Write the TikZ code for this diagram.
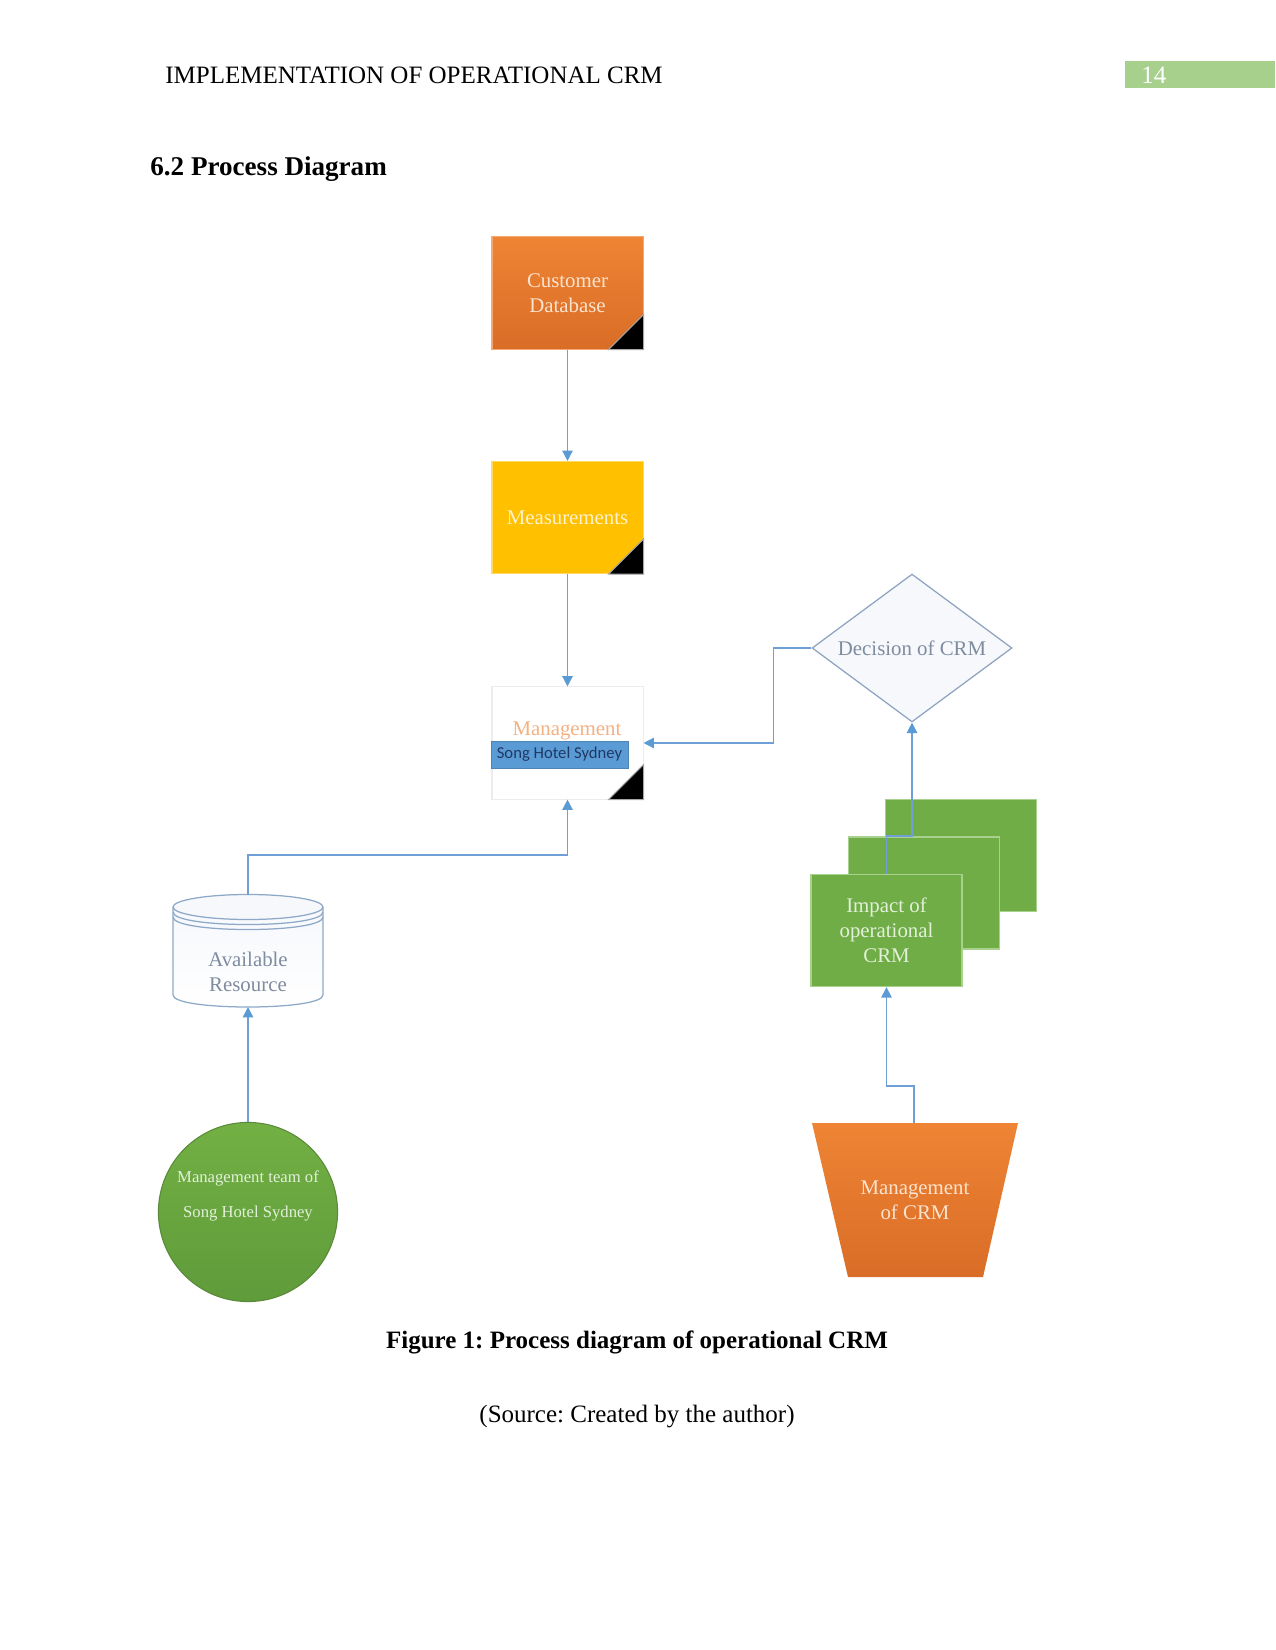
\documentclass[tikz,border=0pt]{standalone}
\usepackage{fontspec}
\setmainfont{Liberation Serif}
\newfontfamily\calfont{Carlito}
\usetikzlibrary{arrows.meta,shapes.geometric}
\frenchspacing
\definecolor{connc}{HTML}{6E9FD6}
\definecolor{arrc}{HTML}{5B9BD5}
\definecolor{orA}{HTML}{EE8434}
\definecolor{orB}{HTML}{D96D27}
\definecolor{orTxt}{HTML}{FBE3D0}
\definecolor{yel}{HTML}{FFC000}
\definecolor{yelTxt}{HTML}{FFF2CC}
\definecolor{mgTxt}{HTML}{F4B183}
\definecolor{banner}{HTML}{5B9BD5}
\definecolor{bannerTxt}{HTML}{1F3864}
\definecolor{grn}{HTML}{70AD47}
\definecolor{grnC}{HTML}{72B044}
\definecolor{grnD}{HTML}{5F9B3A}
\definecolor{grnB}{HTML}{A9D18E}
\definecolor{grnTxt}{HTML}{E2F0D9}
\definecolor{decLine}{HTML}{8FA3BF}
\definecolor{decTxt}{HTML}{7F8C9F}
\definecolor{decFill}{HTML}{F6F8FC}
\definecolor{cylLine}{HTML}{8EA9C8}
\definecolor{pageGrn}{HTML}{A8D08D}
\newcommand\cornertri[1]{\filldraw[fill=black,draw=gray!70,line width=0.5pt] (#1.south east) -- ++(-35,0) -- ++(35,-35) -- cycle;}
\begin{document}
\begin{tikzpicture}[x=0.48pt,y=-0.48pt,
  conn/.style={draw=connc,line width=0.7pt},
  arr/.style={conn,-{Triangle[length=5pt,width=5pt,color=arrc]}},
  dfont/.style={font=\fontsize{10}{12}\selectfont},
  box/.style={rectangle,minimum width=72.5pt,minimum height=53.8pt,inner sep=0pt,align=center,dfont},
  gbox/.style={box,fill=grn,draw=grnB,line width=0.6pt,text=grnTxt}
]
\useasboundingbox (0,0) rectangle (1275,1650);

% header
\node[anchor=base west,inner sep=0pt,font=\fontsize{12}{14}\selectfont] (hdr) at (165,84) {IMPLEMENTATION OF OPERATIONAL CRM};
\fill[pageGrn] (1125,61) rectangle (1275,88);
\node[anchor=base west,inner sep=0pt,text=white,font=\fontsize{12}{14}\selectfont] (pg) at (1141,84) {14};
\node[anchor=base west,inner sep=0pt,font=\bfseries\fontsize{13}{15}\selectfont] (sec) at (150,176) {6.2 Process Diagram};

% Customer Database
\node[box,top color=orA,bottom color=orB,draw=orA!70!white,line width=0.5pt,text=orTxt] (cdb) at (567.5,293) {Customer\\Database};
\cornertri{cdb}
% Measurements
\node[box,fill=yel,draw=yel!60!white,line width=0.5pt,text=yelTxt] (meas) at (567.5,517.5) {Measurements};
\cornertri{meas}
% Management
\node[box,fill=white,draw=gray!15,line width=0.5pt] (mgmt) at (567.5,743) {};
\node[dfont,text=mgTxt,inner sep=0pt] (mgtxt) at (567,731) {Management};
\node[rectangle,fill=banner,draw=banner!85!black,line width=0.4pt,minimum width=65.8pt,minimum height=13pt,inner sep=0pt,text=bannerTxt,font=\calfont\fontsize{8}{10}\selectfont] (song) at (559.5,754.5) {Song Hotel Sydney};
\cornertri{mgmt}

% Decision diamond
\node[diamond,aspect=1.35,minimum width=96pt,minimum height=71pt,inner sep=0pt,fill=decFill,draw=decLine,line width=0.6pt,text=decTxt,dfont] (dec) at (912,648) {Decision of CRM};

% stacked impact boxes
\node[gbox] (imp3) at (961,855.5) {};
\node[gbox] (imp2) at (924,893) {};
\node[gbox] (imp1) at (886.5,930.5) {Impact of\\operational\\CRM};

% Available resource cylinder
\path[top color=decFill,bottom color=white] (173,907) -- (173,995) .. controls (173,1011) and (323,1011) .. (323,995) -- (323,907) -- cycle;
\draw[cylLine,line width=0.6pt] (173,907) -- (173,995) .. controls (173,1011) and (323,1011) .. (323,995) -- (323,907);
\draw[cylLine,line width=0.6pt,fill=decFill] (248,907) ellipse (75 and 12.5);
\draw[cylLine,line width=0.6pt] (173,912) .. controls (173,928.7) and (323,928.7) .. (323,912);
\draw[cylLine,line width=0.6pt] (173,917) .. controls (173,933.7) and (323,933.7) .. (323,917);
\coordinate (avtop) at (248,895);
\coordinate (avbot) at (248,1007);
\node[dfont,text=decTxt,align=center,inner sep=0pt] (avail) at (248,972) {Available\\Resource};

% Management team circle
\node[circle,minimum size=86pt,inner sep=0pt,top color=grnC,bottom color=grnD,draw=grn!80!black,line width=0.5pt] (mteam) at (248,1212) {};
\node[align=center,inner sep=0pt,text=grnTxt,font=\fontsize{8}{17}\selectfont] (mteamtxt) at (248,1196) {Management team of\\Song Hotel Sydney};

% Management of CRM trapezoid
\shade[top color=orA,bottom color=orB] (812,1123) -- (1018,1123) -- (983,1277) -- (848,1277) -- cycle;
\coordinate (mcrmtop) at (914,1123);
\node[dfont,align=center,inner sep=0pt,text=orTxt] (mcrm) at (915,1200) {Management\\of CRM};

% connectors
\draw[arr] (cdb.south) -- (meas.north);
\draw[arr] (meas.south) -- (mgmt.north);
\draw[arr] (dec.west) -- ++(-38,0) |- (mgmt.east);
\draw[arr] (avtop) -- ++(0,-40) -| (mgmt.south);
\draw[arr] (mteam.north) -- (avbot);
\draw[arr] (mcrmtop) -- ++(0,-37) -| (imp1.south);
\draw[arr] (imp1.north) -- ++(0,-38) -| (dec.south);

% caption
\node[inner sep=0pt,font=\bfseries\fontsize{12}{14}\selectfont] (cap) at (637,1342) {Figure 1: Process diagram of operational CRM};
\node[inner sep=0pt,font=\fontsize{12}{14}\selectfont] (src) at (637,1417) {(Source: Created by the author)};
\end{tikzpicture}
\end{document}
